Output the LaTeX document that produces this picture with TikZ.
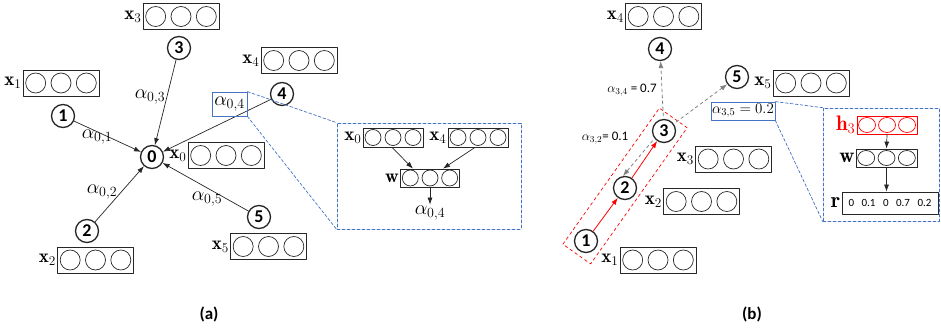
\RequirePackage{fix-cm}
\documentclass[tikz,border=0pt]{standalone}
\usepackage{fontspec}
\setsansfont{Carlito}
\usetikzlibrary{positioning,arrows.meta,calc}

\definecolor{zoomblue}{RGB}{68,114,196}
\definecolor{hlred}{RGB}{255,0,0}
\definecolor{edgegrey}{RGB}{128,128,128}

% feature vector: box with three circles
\newcommand{\featbox}[6][black!85]{%
  \node[draw=#1, line width=0.8pt, minimum width=#4, minimum height=#5, inner sep=0pt] (#2) at #3 {};
  \foreach \k in {-1,0,1}
    \draw[#1, line width=0.7pt] ([xshift=\k*#4/3]#2.center) ellipse (#6);
}

\tikzset{
  agent/.style={circle, draw=black!85, line width=1.3pt, minimum size=23pt, inner sep=0pt,
    font=\sffamily\bfseries\fontsize{18}{18}\selectfont},
  xlab/.style={inner sep=1pt, font=\fontsize{19}{19}\selectfont},
  alab/.style={inner sep=1pt, font=\fontsize{20}{20}\selectfont},
  blab/.style={inner sep=1pt, font=\sffamily\fontsize{13}{13}\selectfont},
  panel/.style={font=\sffamily\bfseries\fontsize{17}{17}\selectfont},
  conn/.style={black!85, line width=0.7pt, -{Latex[length=7pt,width=5pt]}},
  walk/.style={hlred, line width=0.8pt, -{Latex[length=7pt,width=5pt]}},
  attn/.style={edgegrey, dashed, line width=0.8pt, shorten <=3pt, -{Latex[length=7pt,width=5pt]}},
  grpline/.style={hlred, dashed, line width=0.7pt},
  zoomframe/.style={draw=zoomblue, densely dashed, line width=0.7pt, inner sep=0pt},
  zoomline/.style={zoomblue, densely dashed, line width=0.7pt},
}

\begin{document}
\begin{tikzpicture}[x=1pt, y=-1pt, line join=round, line cap=round]
  \useasboundingbox (0,0) rectangle (941,332);

  % (a) neighbours of node 0
  \node[agent] (a0) at (152,157) {0};
  \node[agent] (a1) at (63,116) {1};
  \node[agent] (a2) at (87,231) {2};
  \node[agent] (a3) at (179,48) {3};
  \node[agent] (a4) at (282,94) {4};
  \node[agent] (a5) at (259,217) {5};

  \featbox{ax0}{(226,155.5)}{76pt}{26pt}{10pt and 10pt}
  \featbox{ax1}{(61,83)}{76pt}{26pt}{10pt and 10pt}
  \featbox{ax2}{(95.5,260)}{76pt}{26pt}{10pt and 10pt}
  \featbox{ax3}{(181,16.5)}{76pt}{26pt}{10pt and 10pt}
  \featbox{ax4}{(299,60.5)}{76pt}{26pt}{10pt and 10pt}
  \featbox{ax5}{(268.5,246.5)}{76pt}{26pt}{10pt and 10pt}
  \foreach \i in {0,...,5}
    \node[xlab, left=0pt of ax\i] (lax\i) {$\mathbf{x}_\i$};

  \draw[conn] (a1) -- (a0);
  \draw[conn] (a2) -- (a0);
  \draw[conn] (a3) -- (a0);
  \draw[conn] (a4) -- (a0);
  \draw[conn] (a5) -- (a0);

  \node[alab] (al01) at (97,137) {$\alpha_{0,1}$};
  \node[alab] (al02) at (102,192) {$\alpha_{0,2}$};
  \node[alab] (al03) at (150,97) {$\alpha_{0,3}$};
  \node[alab] (al05) at (207,199) {$\alpha_{0,5}$};
  \node[alab, draw=zoomblue, line width=0.8pt, minimum width=35pt, minimum height=24pt, inner sep=0pt]
    (al04) at (229.5,104) {$\alpha_{0,4}$};

  % inset (a)
  \node[zoomframe, minimum width=184pt, minimum height=106pt] (insa) at (429,176) {};
  \draw[zoomline] (al04.north east) -- (insa.north west);
  \draw[zoomline] (al04.south east) -- (insa.south west);

  \featbox{ix0}{(393,137.5)}{60pt}{19pt}{8pt and 8pt}
  \featbox{ix4}{(478,137.5)}{60pt}{19pt}{8pt and 8pt}
  \featbox{iwa}{(430,178)}{59pt}{18pt}{8pt and 8pt}
  \node[xlab, left=0pt of ix0] (lix0) {$\mathbf{x}_0$};
  \node[xlab, left=0pt of ix4] (lix4) {$\mathbf{x}_4$};
  \node[xlab, left=0pt of iwa] (liwa) {$\mathbf{w}$};
  \node[alab] (ial04) at (430,213) {$\alpha_{0,4}$};
  \draw[conn] ([xshift=-1pt]ix0.south) -- ([xshift=-17pt]iwa.north);
  \draw[conn] ([xshift=-3pt]ix4.south) -- ([xshift=13pt]iwa.north);
  \draw[conn] (iwa.south) -- (ial04.north);

  \node[panel] (capa) at (209,314) {(a)};

  % (b) walk 1-2-3 and attention of node 3
  \node[agent] (b1) at (586,241) {1};
  \node[agent] (b2) at (625,188) {2};
  \node[agent] (b3) at (664,131) {3};
  \node[agent] (b4) at (660,49) {4};
  \node[agent] (b5) at (737,77) {5};

  \featbox{bx1}{(658,260)}{76pt}{26pt}{10pt and 10pt}
  \featbox{bx2}{(701.5,201.5)}{76pt}{26pt}{10pt and 10pt}
  \featbox{bx3}{(733.5,159)}{76pt}{26pt}{10pt and 10pt}
  \featbox{bx4}{(663.5,16.5)}{76pt}{26pt}{10pt and 10pt}
  \featbox{bx5}{(811,83)}{76pt}{26pt}{10pt and 10pt}
  \foreach \i in {1,...,5}
    \node[xlab, left=0pt of bx\i] (lbx\i) {$\mathbf{x}_\i$};

  \coordinate (gs) at ($(b1)!-16pt!(b3)$);
  \coordinate (ge) at ($(b3)!-16pt!(b1)$);
  \draw[grpline] ($(gs)!17pt!90:(ge)$) -- ($(ge)!17pt!-90:(gs)$)
    -- ($(ge)!17pt!90:(gs)$) -- ($(gs)!17pt!-90:(ge)$) -- cycle;

  \draw[walk] (b1) -- (b2);
  \draw[walk] (b2) -- (b3);
  \draw[attn] (b3.218) -- (b2.100);
  \draw[attn] (b3) -- (b4);
  \draw[attn] (b3) -- (b5);

  \node[blab] (al34) at (632,90) {$\alpha_{3,4}$ = 0.7};
  \node[blab] (al32) at (605,138) {$\alpha_{3,2}$= 0.1};
  \node[draw=zoomblue, line width=0.8pt, minimum width=62pt, minimum height=18pt, inner sep=1pt,
    font=\fontsize{15}{15}\selectfont] (al35) at (743,111) {$\alpha_{3,5}=0.2$};

  % inset (b)
  \node[zoomframe, minimum width=116pt, minimum height=113pt] (insb) at (881,164.5) {};
  \draw[zoomline] (al35.north east) -- (insb.north west);
  \draw[zoomline] (al35.south east) -- (insb.south west);

  \featbox[hlred]{ih3}{(887,125)}{60pt}{18pt}{8.5pt and 7.5pt}
  \featbox{iwb}{(886.5,158)}{61pt}{18pt}{8.5pt and 7.5pt}
  \node[draw=black!85, line width=0.8pt, minimum width=96pt, minimum height=22pt, inner sep=0pt,
    font=\sffamily\fontsize{11}{11}\selectfont] (ir) at (890,203)
    {0\hspace{7.5pt}0.1\hspace{7.5pt}0\hspace{7.5pt}0.7\hspace{7.5pt}0.2};
  \node[xlab, hlred, font=\fontsize{21}{21}\selectfont, left=0pt of ih3] (lih3) {$\mathbf{h}_3$};
  \node[xlab, font=\fontsize{21}{21}\selectfont, left=0pt of iwb] (liwb) {$\mathbf{w}$};
  \node[xlab, font=\fontsize{22}{22}\selectfont, left=0pt of ir] (lir) {$\mathbf{r}$};
  \draw[conn] (ih3.south) -- (iwb.north);
  \draw[conn] (iwb.south) -- (iwb.south |- ir.north);

  \node[panel] (capb) at (752,314) {(b)};
\end{tikzpicture}
\end{document}
